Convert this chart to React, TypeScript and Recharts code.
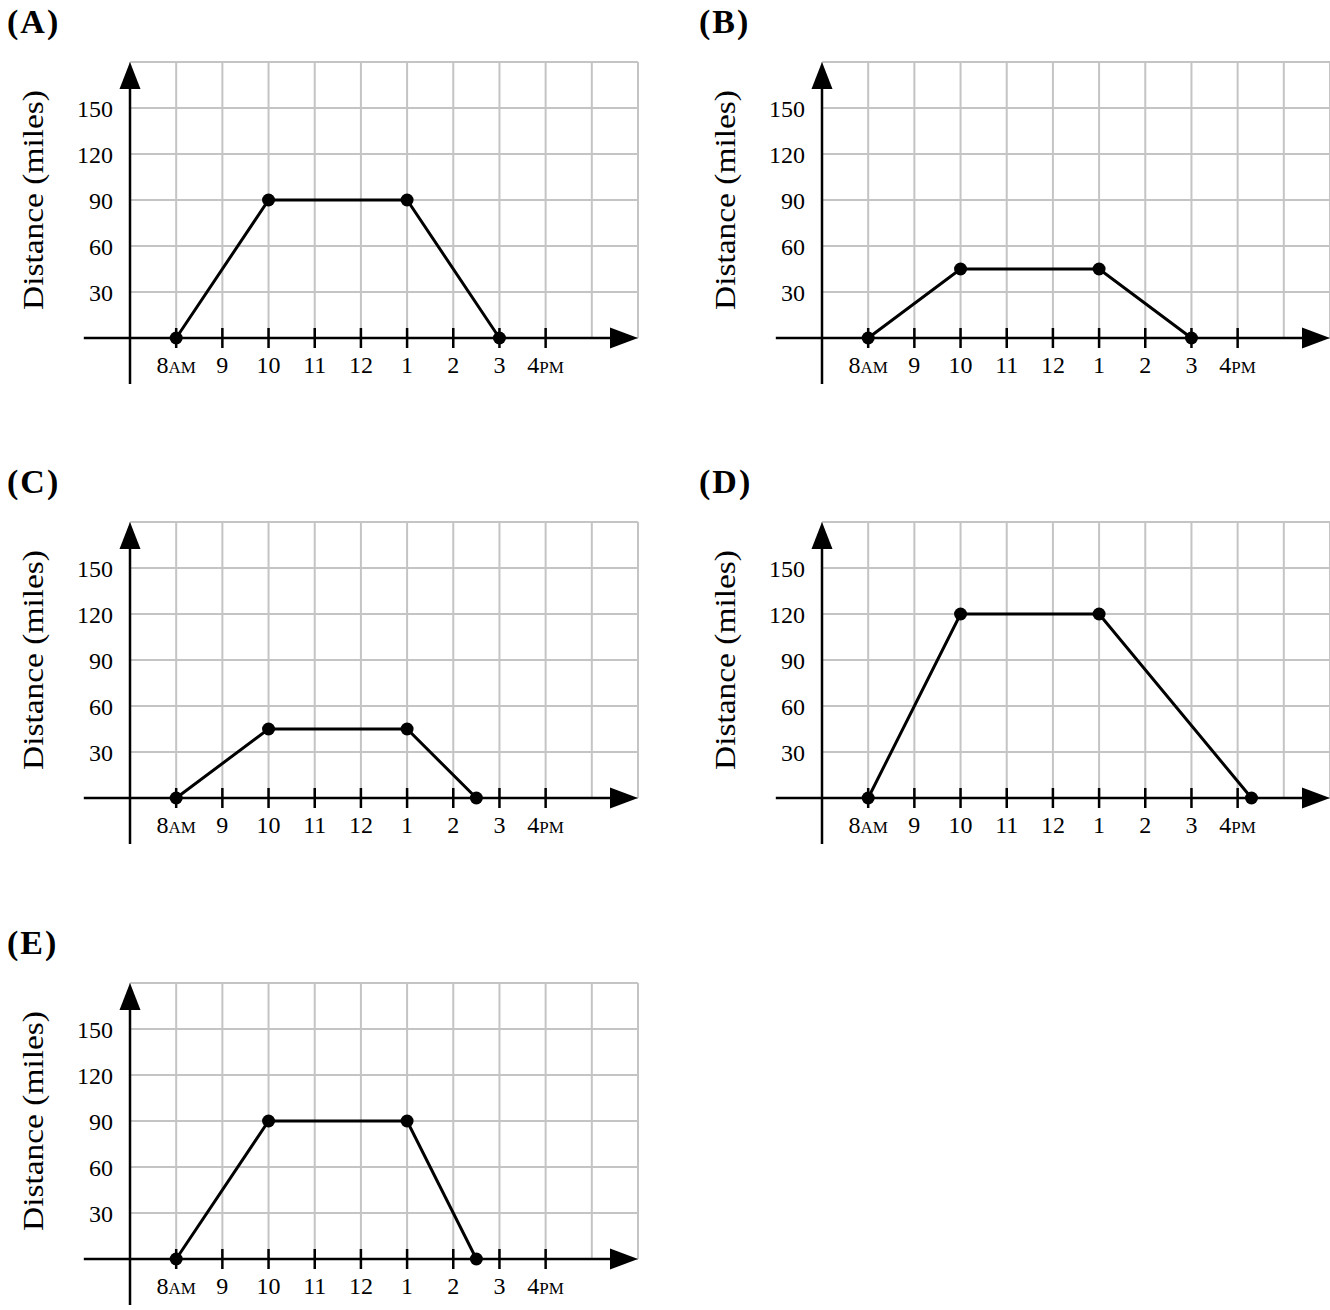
import { LineChart, Line, XAxis, YAxis, ReferenceLine, ReferenceDot } from "recharts"

const panelLabels = ["(A)", "(B)", "(C)", "(D)", "(E)"]

// stops of each trip: hour of day (24h) and distance from home in miles
const timesA = [8, 10, 13, 15]
const distA = [0, 90, 90, 0]
const timesB = [8, 10, 13, 15]
const distB = [0, 45, 45, 0]
const timesC = [8, 10, 13, 14.5]
const distC = [0, 45, 45, 0]
const timesD = [8, 10, 13, 16.3]
const distD = [0, 120, 120, 0]
const timesE = [8, 10, 13, 14.5]
const distE = [0, 90, 90, 0]

const hourTicks = [8, 9, 10, 11, 12, 13, 14, 15, 16]
const hourLabels = ["8", "9", "10", "11", "12", "1", "2", "3", "4"]
const hourSuffix = ["AM", "", "", "", "", "", "", "", "PM"]
const gridHours = [7, 8, 9, 10, 11, 12, 13, 14, 15, 16, 17, 18]
const gridMiles = [0, 30, 60, 90, 120, 150, 180]
const distanceTicks = [30, 60, 90, 120, 150]

const FONT = "'Liberation Serif', 'Times New Roman', serif"
const GRID = "#c4c4c4"
const PANEL_W = 692
const PANEL_H = 460

const panels = [
  { label: panelLabels[0], times: timesA, dist: distA, left: 0, top: 0 },
  { label: panelLabels[1], times: timesB, dist: distB, left: PANEL_W, top: 0 },
  { label: panelLabels[2], times: timesC, dist: distC, left: 0, top: 460 },
  { label: panelLabels[3], times: timesD, dist: distD, left: PANEL_W, top: 460 },
  { label: panelLabels[4], times: timesE, dist: distE, left: 0, top: 921 },
]

function HourTick({ x, y, payload }: any) {
  const i = hourTicks.indexOf(payload.value)
  return (
    <g>
      <line x1={x} x2={x} y1={y - 10} y2={y + 10} stroke="#000" strokeWidth={2.5} />
      <text x={x} y={y + 35} textAnchor="middle" fontSize={24} fontFamily={FONT} fill="#000">
        {hourLabels[i]}
        {hourSuffix[i] && <tspan fontSize={17}>{hourSuffix[i]}</tspan>}
      </text>
    </g>
  )
}

function AxisTitle({ viewBox }: any) {
  const x = viewBox.x + 43
  const y = viewBox.y + viewBox.height / 2
  return (
    <text
      x={x}
      y={y}
      transform={`rotate(-90 ${x} ${y})`}
      textAnchor="middle"
      fontSize={29}
      fontFamily={FONT}
      fill="#000"
      textLength={220}
      lengthAdjust="spacingAndGlyphs"
    >
      Distance (miles)
    </text>
  )
}

const upArrow = ({ cx, cy }: any) => (
  <path d={`M${cx},${cy} L${cx - 10.5},${cy + 27} L${cx + 10.5},${cy + 27} Z`} fill="#000" />
)
const rightArrow = ({ cx, cy }: any) => (
  <path d={`M${cx},${cy} L${cx - 28},${cy - 10.5} L${cx - 28},${cy + 10.5} Z`} fill="#000" />
)

function TripPanel({ label, times, dist, left, top }: any) {
  const data = times.map((t: number, i: number) => ({ t, d: dist[i] }))
  return (
    <div style={{ position: "absolute", left, top, width: PANEL_W, height: PANEL_H }}>
      <div
        style={{
          position: "absolute",
          left: 7,
          top: 6,
          fontFamily: FONT,
          fontWeight: "bold",
          fontSize: 34,
          lineHeight: "32px",
          letterSpacing: 2,
        }}
      >
        {label}
      </div>
      <LineChart width={PANEL_W} height={PANEL_H} data={data} margin={{ top: 62, right: 54, bottom: 62, left: 0 }}>
        <XAxis
          dataKey="t"
          type="number"
          domain={[7, 18]}
          ticks={hourTicks}
          interval={0}
          axisLine={false}
          tickLine={false}
          tickSize={0}
          tickMargin={0}
          height={60}
          tick={<HourTick />}
        />
        <YAxis
          type="number"
          domain={[0, 180]}
          ticks={distanceTicks}
          interval={0}
          axisLine={false}
          tickLine={false}
          tickSize={0}
          tickMargin={17}
          width={130}
          tick={{ fontSize: 24, fill: "#000", fontFamily: FONT }}
          label={{ value: "Distance (miles)", content: AxisTitle }}
        />
        {gridHours.map((h) => (
          <ReferenceLine key={`v${h}`} x={h} stroke={GRID} strokeWidth={2} />
        ))}
        {gridMiles.map((m) => (
          <ReferenceLine key={`h${m}`} y={m} stroke={GRID} strokeWidth={2} />
        ))}
        <ReferenceLine
          segment={[{ x: 6, y: 0 }, { x: 17.5, y: 0 }]}
          ifOverflow="visible"
          stroke="#000"
          strokeWidth={2.5}
        />
        <ReferenceLine
          segment={[{ x: 7, y: -30 }, { x: 7, y: 170 }]}
          ifOverflow="visible"
          stroke="#000"
          strokeWidth={2.5}
        />
        <ReferenceDot x={18} y={0} ifOverflow="visible" shape={rightArrow} />
        <ReferenceDot x={7} y={180} ifOverflow="visible" shape={upArrow} />
        <Line
          type="linear"
          dataKey="d"
          stroke="#000"
          strokeWidth={3}
          dot={{ r: 6.5, fill: "#000", stroke: "#000", strokeWidth: 0 }}
          activeDot={false}
          isAnimationActive={false}
        />
      </LineChart>
    </div>
  )
}

export default function App() {
  return (
    <div style={{ position: "absolute", left: 0, top: 0, width: 1330, height: 1310, background: "#fff" }}>
      {panels.map((p) => (
        <TripPanel key={p.label} {...p} />
      ))}
    </div>
  )
}
